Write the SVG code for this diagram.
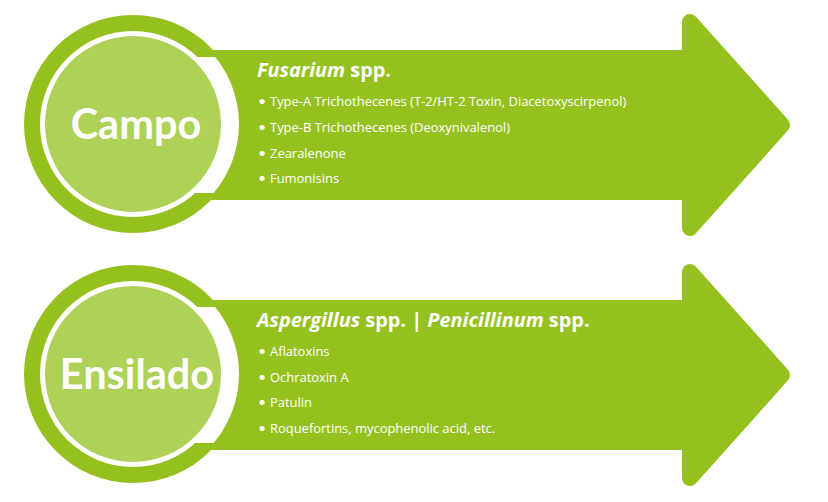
<svg xmlns="http://www.w3.org/2000/svg" xmlns:xlink="http://www.w3.org/1999/xlink" width="828" height="502" viewBox="0 0 828 502">
<style>
.dark{fill:#95C11F}
.arrow{fill:#95C11F;stroke:#95C11F;stroke-width:16;stroke-linejoin:round}
.light{fill:#AED158}
.white{fill:#FFFFFF}
.big{font-family:Lato,"Open Sans",sans-serif;font-weight:bold;font-size:41.5px;fill:#FFFFFF;text-anchor:middle}
.head{font-family:"Open Sans",Lato,sans-serif;font-weight:bold;font-size:19.9px;fill:#FFFFFF}
.item{font-family:"Open Sans",Lato,sans-serif;font-size:12.95px;fill:#FFFFFF}
.dot{font-family:Lato,"Open Sans",sans-serif;font-size:14px;fill:#FFFFFF}
</style>
<defs>
<clipPath id="band"><rect x="150" y="57" width="120" height="136" rx="6"/></clipPath>
<g id="shape">
<circle class="dark" cx="133" cy="124" r="109"/>
<polygon class="arrow" points="200,58 690,58 690,22 782,125 690,228 690,192 200,192"/>
<circle class="white" cx="133" cy="124" r="106" clip-path="url(#band)"/>
<circle class="white" cx="133" cy="124" r="93"/>
<circle class="light" cx="133" cy="124" r="88"/>
</g>
</defs>
<g id="campo">
<use xlink:href="#shape"/>
<text class="big" x="136" y="139">Campo</text>
<text class="head" x="257" y="77"><tspan font-style="italic">Fusarium</tspan> spp.</text>
<g class="dot">
<text x="258" y="106">•</text>
<text x="258" y="132">•</text>
<text x="258" y="158">•</text>
<text x="258" y="183">•</text>
</g>
<g class="item">
<text x="270" y="106">Type-A Trichothecenes (T-2/HT-2 Toxin, Diacetoxyscirpenol)</text>
<text x="270" y="132">Type-B Trichothecenes (Deoxynivalenol)</text>
<text x="270" y="158">Zearalenone</text>
<text x="270" y="183">Fumonisins</text>
</g>
</g>
<g id="ensilado">
<use xlink:href="#shape" transform="translate(0,250)"/>
<text class="big" x="137" y="389">Ensilado</text>
<text class="head" x="257" y="327"><tspan font-style="italic">Aspergillus</tspan> spp. | <tspan font-style="italic">Penicillinum</tspan> spp.</text>
<g class="dot">
<text x="258" y="356">•</text>
<text x="258" y="382">•</text>
<text x="258" y="407">•</text>
<text x="258" y="433">•</text>
</g>
<g class="item">
<text x="270" y="356">Aflatoxins</text>
<text x="270" y="382">Ochratoxin A</text>
<text x="270" y="407">Patulin</text>
<text x="270" y="433">Roquefortins, mycophenolic acid, etc.</text>
</g>
</g>
</svg>
